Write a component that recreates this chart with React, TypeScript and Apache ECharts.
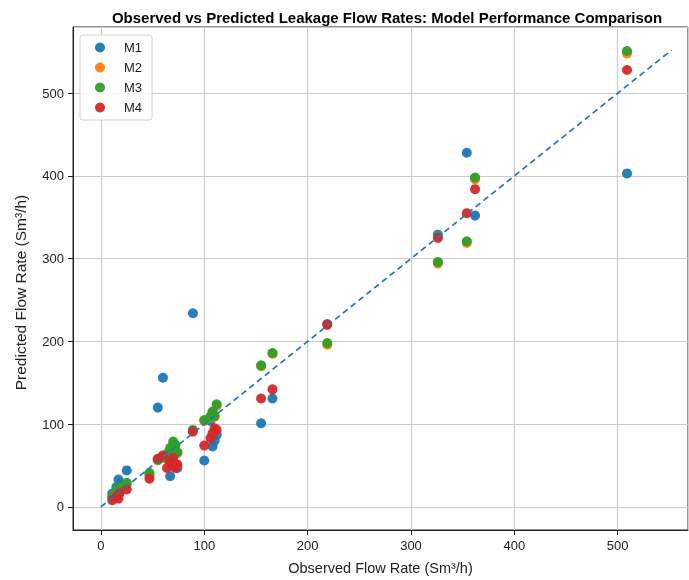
import React, { useEffect, useRef } from "react";
import * as echarts from "echarts";

const observed = [11, 15, 17, 18, 25, 47, 55, 60, 64, 67, 70, 72, 74, 89, 100, 106, 108, 110, 112, 155, 166, 219, 326, 354, 362, 509];
const m1Pred = [16, 24, 33, 27, 44, 38, 120, 156, 58, 37, 62, 52, 47, 234, 56, 104, 73, 80, 87, 101, 131, 221, 329, 428, 352, 403];
const m2Pred = [11, 19, 15, 23, 27, 39, 56, 59, 63, 69, 77, 73, 65, 92, 104, 108, 113, 109, 122, 170, 185, 196, 294, 319, 396, 548];
const m3Pred = [12, 20, 16, 24, 29, 41, 57, 60, 64, 71, 79, 75, 66, 93, 105, 109, 115, 110, 124, 171, 186, 198, 296, 321, 398, 551];
const m4Pred = [8, 12, 10, 16, 21, 34, 58, 62, 47, 54, 59, 47, 51, 91, 74, 83, 89, 95, 93, 131, 142, 220, 325, 355, 384, 528];
const identityLine = [0, 552];

const seriesNames = ["M1", "M2", "M3", "M4"];
const seriesColors = ["#1f77b4", "#ff7f0e", "#2ca02c", "#d62728"];
const predictions = [m1Pred, m2Pred, m3Pred, m4Pred];

export default function App() {
  const ref = useRef<HTMLDivElement>(null);
  useEffect(() => {
    if (!ref.current) return;
    const chart = echarts.init(ref.current, null, { renderer: "svg" });
    const font = "Liberation Sans, Arial, sans-serif";
    const scatterSeries = predictions.map((pred, i) => ({
      name: seriesNames[i],
      type: "scatter",
      symbol: "circle",
      symbolSize: 10,
      itemStyle: { color: seriesColors[i], opacity: 0.95 },
      data: observed.map((x, j) => [x, pred[j]]),
      z: 3 + i,
    }));
    chart.setOption({
      animation: false,
      textStyle: { fontFamily: font },
      title: {
        text: "Observed vs Predicted Leakage Flow Rates: Model Performance Comparison",
        left: 382,
        textAlign: "center",
        top: 5,
        textStyle: { fontSize: 15, fontWeight: "bold", color: "#000", fontFamily: font },
      },
      grid: {
        left: 73,
        right: 1,
        top: 27,
        bottom: 50,
        show: true,
        borderColor: "#222",
        borderWidth: 1,
        containLabel: false,
      },
      legend: {
        data: seriesNames,
        orient: "vertical",
        left: 80,
        top: 35,
        itemWidth: 10,
        itemHeight: 10,
        itemGap: 7,
        padding: [6, 10, 6, 15],
        borderColor: "#d0d0d0",
        borderWidth: 1,
        borderRadius: 3,
        backgroundColor: "rgba(255,255,255,0.8)",
        textStyle: { fontSize: 13, color: "#222", padding: [0, 0, 0, 14], fontFamily: font },
      },
      xAxis: {
        type: "value",
        min: -27,
        max: 568,
        name: "Observed Flow Rate (Sm³/h)",
        nameLocation: "middle",
        nameGap: 30,
        nameTextStyle: { fontSize: 14.5, color: "#222" },
        axisLine: { show: true, onZero: false, lineStyle: { color: "#222", width: 1 } },
        axisTick: { show: true, length: 5, lineStyle: { color: "#222" } },
        axisLabel: { fontSize: 13, color: "#222", margin: 9, showMinLabel: false, showMaxLabel: false },
        splitLine: { show: true, lineStyle: { color: "#cccccc", width: 1.2 } },
      },
      yAxis: {
        type: "value",
        min: -28,
        max: 580,
        name: "Predicted Flow Rate (Sm³/h)",
        nameLocation: "middle",
        nameGap: 45,
        nameRotate: 90,
        nameTextStyle: { fontSize: 15.5, color: "#222", padding: [0, 28, 0, 0] },
        axisLine: { show: true, onZero: false, lineStyle: { color: "#222", width: 1 } },
        axisTick: { show: true, length: 5, lineStyle: { color: "#222" } },
        axisLabel: { fontSize: 13, color: "#222", margin: 9, showMinLabel: false, showMaxLabel: false },
        splitLine: { show: true, lineStyle: { color: "#cccccc", width: 1.2 } },
      },
      series: [
        ...scatterSeries,
        {
          name: "Perfect",
          type: "line",
          data: identityLine.map((v) => [v, v]),
          symbol: "none",
          lineStyle: { color: "#1f77b4", width: 1.8, type: [6, 4] },
          z: 10,
          silent: true,
        },
      ],
    });
    return () => chart.dispose();
  }, []);
  return <div ref={ref} style={{ position: "fixed", left: 0, top: 0, width: 689, height: 580 }} />;
}
